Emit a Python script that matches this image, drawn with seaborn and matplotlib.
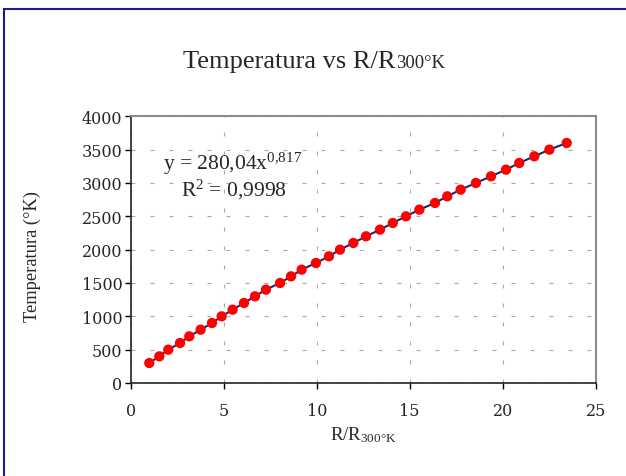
import matplotlib
matplotlib.use("Agg")
import matplotlib.pyplot as plt
import matplotlib.patches as mpatches
import seaborn as sns
import pandas as pd

# Data
temperatura = [300, 400, 500, 600, 700, 800, 900, 1000, 1100, 1200, 1300, 1400,
               1500, 1600, 1700, 1800, 1900, 2000, 2100, 2200, 2300, 2400, 2500,
               2600, 2700, 2800, 2900, 3000, 3100, 3200, 3300, 3400, 3500, 3600]
r_ratio = [1.00, 1.54, 2.02, 2.65, 3.15, 3.76, 4.37, 4.89, 5.48, 6.09, 6.68, 7.27,
           8.03, 8.62, 9.19, 9.96, 10.66, 11.25, 11.97, 12.65, 13.40, 14.09, 14.80,
           15.52, 16.36, 17.02, 17.74, 18.56, 19.37, 20.18, 20.89, 21.70, 22.51, 23.44]
x_ticks = [0, 5, 10, 15, 20, 25]
y_ticks = [0, 500, 1000, 1500, 2000, 2500, 3000, 3500, 4000]

df = pd.DataFrame({"R": r_ratio, "T": temperatura})

sns.set_style("white")
plt.rcParams["font.family"] = ["Liberation Serif", "DejaVu Serif"]
plt.rcParams["mathtext.fontset"] = "custom"
plt.rcParams["mathtext.rm"] = "Liberation Serif"
plt.rcParams["mathtext.it"] = "Liberation Serif"

W, H = 626, 477
fig = plt.figure(figsize=(W / 100, H / 100), dpi=100)
fig.patch.set_facecolor("white")

left, right, top, bottom = 130.7, 595.7, 117.3, 384.0
ax = fig.add_axes([left / W, 1 - bottom / H, (right - left) / W, (bottom - top) / H])

sns.lineplot(data=df, x="R", y="T", ax=ax, color="#0d2f6b", linewidth=1.5, sort=False)
sns.scatterplot(data=df, x="R", y="T", ax=ax, color="#ff0000", s=55, edgecolor="none", zorder=3)

ax.set_xlim(0, 25)
ax.set_ylim(0, 4000)
ax.set_xticks(x_ticks)
ax.set_yticks(y_ticks)
ax.set_xticklabels([str(v) for v in x_ticks], fontfamily="DejaVu Serif", fontsize=11.5)
ax.set_yticklabels([str(v) for v in y_ticks], fontfamily="DejaVu Serif", fontsize=11.5)
ax.tick_params(axis="both", direction="out", length=4, width=1, color="#000000", pad=3,
               bottom=True, left=True)
ax.tick_params(axis="x", pad=10)
ax.tick_params(axis="y", pad=2)

ax.grid(True, color="#a8a8a8", linewidth=0.8, linestyle=(0, (3.6, 13.5)))
ax.set_axisbelow(True)
for s in ["left", "bottom"]:
    ax.spines[s].set_color("#222222")
    ax.spines[s].set_linewidth(1.2)
for s in ["top", "right"]:
    ax.spines[s].set_color("#8c8c8c")
    ax.spines[s].set_linewidth(1.5)
    ax.spines[s].set_visible(True)

ax.set_xlabel("")
ax.set_ylabel("")

# Axis labels
fig.text(32 / W, 1 - 257 / H, "Temperatura (°K)", rotation=90, ha="center", va="center",
         fontsize=13.3)
fig.text(363 / W, 1 - 440 / H, r"R/R$_{\mathregular{300°K}}$", ha="center", va="baseline",
         fontsize=13.5)

# Equation annotation
fig.text(233 / W, 1 - 170 / H, r"y = 280,04x$^{\mathregular{0{,}817}}$", ha="center",
         va="baseline", fontsize=15.5)
fig.text(234 / W, 1 - 196.7 / H, r"R$^{\mathregular{2}}$ = 0,9998", ha="center",
         va="baseline", fontsize=15.5)

# Title in two parts (small suffix on the same baseline), centred as a whole
t1 = fig.text(0, 1 - 68 / H, "Temperatura vs R/R", ha="left", va="baseline", fontsize=19)
t2 = fig.text(0, 1 - 68 / H, "300°K", ha="left", va="baseline", fontsize=13.5)
fig.canvas.draw()
r = fig.canvas.get_renderer()
w1 = t1.get_window_extent(r).width
w2 = t2.get_window_extent(r).width
x0 = 314 - (w1 + w2) / 2
t1.set_x(x0 / W)
t2.set_x((x0 + w1 + 0.5) / W)

# Outer chart border
border = mpatches.Rectangle((3.5 / W, -0.05), 1.1, 1 - 10 / H + 0.05,
                            transform=fig.transFigure, fill=False,
                            edgecolor="#1c1c8a", linewidth=1.5, zorder=10)
fig.patches.append(border)

fig.savefig("out.png", dpi=100)
